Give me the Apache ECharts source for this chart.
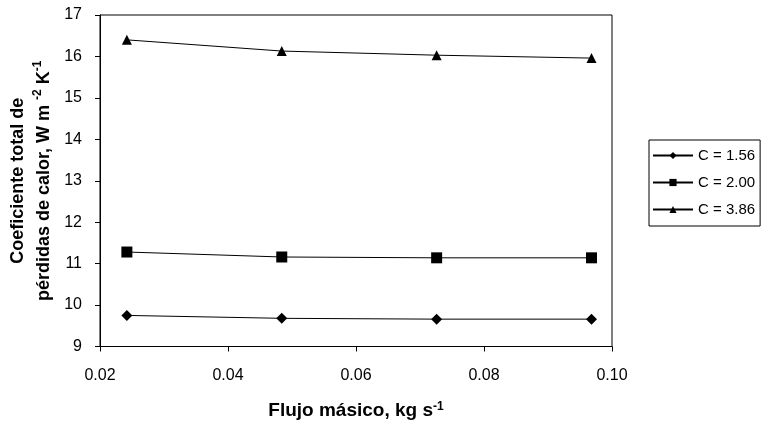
<!DOCTYPE html>
<html>
<head>
<meta charset="utf-8">
<script src="https://cdn.jsdelivr.net/npm/echarts@6/dist/echarts.min.js"></script>
<style>
  html, body { margin: 0; padding: 0; background: #fff; }
  #chart { width: 764px; height: 425px; }
</style>
</head>
<body>
<div id="chart"></div>
<script>
    // mass flow rate, kg/s
    var flujo = [0.0242, 0.0484, 0.0726, 0.0968];
    var seriesNames = ['C = 1.56', 'C = 2.00', 'C = 3.86'];
    var c156 = [9.75, 9.68, 9.66, 9.66];
    var c200 = [11.28, 11.16, 11.14, 11.14];
    var c386 = [16.40, 16.13, 16.03, 15.96];
    var symbols = ['diamond', 'rect', 'triangle'];
    var symbolSizes = [11, 11, 10];

    function pairs(ys) {
        return flujo.map(function (x, i) { return [x, ys[i]]; });
    }

    var chart = echarts.init(document.getElementById('chart'));
    var font = 'Liberation Sans';

    var seriesData = [c156, c200, c386];
    var series = seriesData.map(function (ys, i) {
        return {
            name: seriesNames[i],
            type: 'line',
            data: pairs(ys),
            symbol: symbols[i],
            symbolSize: symbolSizes[i],
            showAllSymbol: true,
            lineStyle: { color: '#000', width: 1 },
            itemStyle: { color: '#000' },
            animation: false
        };
    });

    var options = {
        animation: false,
        textStyle: { fontFamily: font, color: '#000' },
        grid: {
            left: 100, top: 15, width: 512, height: 333,
            show: true, borderColor: '#000', borderWidth: 1
        },
        legend: {
            orient: 'vertical',
            left: 649, top: 140,
            borderColor: '#000', borderWidth: 1,
            padding: [8, 5, 9, 3],
            itemWidth: 40, itemHeight: 9, itemGap: 12,
            textStyle: { fontFamily: font, fontSize: 15, color: '#000' },
            data: seriesNames
        },
        xAxis: {
            type: 'value',
            min: 0.02, max: 0.10, interval: 0.02,
            name: '{b|Flujo másico, kg s}{s|-1}',
            nameLocation: 'middle',
            nameGap: 54,
            nameTextStyle: {
                rich: {
                    b: { fontFamily: font, fontSize: 19, fontWeight: 'bold', color: '#000', lineHeight: 20 },
                    s: { fontFamily: font, fontSize: 12, fontWeight: 'bold', color: '#000', lineHeight: 11, verticalAlign: 'top' }
                }
            },
            axisLine: { lineStyle: { color: '#000', width: 1 } },
            axisTick: { show: true, inside: false, length: 5, lineStyle: { color: '#000' } },
            axisLabel: {
                fontFamily: font, fontSize: 16, color: '#000', margin: 21,
                formatter: function (v) { return v.toFixed(2); }
            },
            splitLine: { show: false }
        },
        yAxis: {
            type: 'value',
            min: 9, max: 17, interval: 1,
            name: '{b|Coeficiente total de}\n{b|pérdidas de calor, W m }{s|-2}{b| K}{s|-1}',
            nameLocation: 'middle',
            nameRotate: 90,
            nameGap: 42,
            nameTextStyle: {
                align: 'center',
                rich: {
                    b: { fontFamily: font, fontSize: 18, fontWeight: 'bold', color: '#000', lineHeight: 26 },
                    s: { fontFamily: font, fontSize: 12, fontWeight: 'bold', color: '#000', lineHeight: 18, verticalAlign: 'top' }
                }
            },
            axisLine: { show: true, lineStyle: { color: '#000', width: 1 } },
            axisTick: { show: true, inside: false, length: 5, lineStyle: { color: '#000' } },
            axisLabel: { fontFamily: font, fontSize: 16, color: '#000', margin: 18 },
            splitLine: { show: false }
        },
        series: series
    };

    chart.setOption(options);
</script>
</body>
</html>
